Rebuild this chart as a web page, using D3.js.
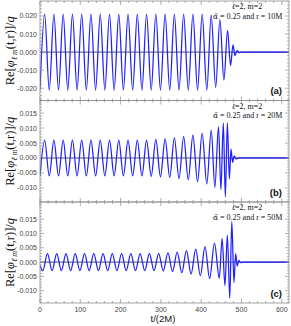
<!DOCTYPE html>
<html>
<head>
<meta charset="utf-8">
<script src="https://cdn.jsdelivr.net/npm/d3@7"></script>
<style>
body { margin: 0; background: #fff; }
</style>
</head>
<body>
<svg width="291" height="326"></svg>
<script>
// extrema of the waveforms (t in units of 2M)
const tA = [0, 11.5, 23, 34.5, 46, 57.5, 69, 80.5, 92, 103.5, 115, 126.5, 138, 149.5, 161, 172.5, 184, 195.5, 207, 218.5, 230, 241.5, 253, 264.5, 276, 287.5, 299, 310.5, 322, 333.5, 345, 356.5, 368, 379.5, 391, 402.5, 414, 425, 436, 446.5, 456.5, 465.5, 473, 479, 484, 489, 494, 500, 618];
const vA = [-0.021, 0.021, -0.021, 0.021, -0.021, 0.021, -0.021, 0.021, -0.021, 0.021, -0.021, 0.021, -0.021, 0.021, -0.021, 0.021, -0.021, 0.021, -0.021, 0.021, -0.021, 0.021, -0.021, 0.021, -0.021, 0.021, -0.021, 0.021, -0.021, 0.021, -0.021, 0.021, -0.021, 0.021, -0.021, 0.021, -0.021, 0.0205, -0.0195, 0.018, -0.0155, 0.012, -0.0075, 0.004, -0.002, 0.0008, -0.0003, 0, 0];

const tB = [0, 11.5, 23, 34.5, 46, 57.5, 69, 80.5, 92, 103.5, 115, 126.5, 138, 149.5, 161, 172.5, 184, 195.5, 207, 218.5, 230, 241.5, 253, 264.5, 276, 287.5, 299, 310.5, 322, 333.5, 345, 356.5, 368, 379.5, 391, 402.5, 414, 425, 434, 443, 449, 455, 460, 465, 470, 474, 478, 482, 487, 493, 618];
const vB = [-0.006, 0.006, -0.006, 0.006, -0.006, 0.006, -0.006, 0.006, -0.006, 0.006, -0.006, 0.006, -0.006, 0.006, -0.006, 0.006, -0.006, 0.006, -0.006, 0.006, -0.006, 0.006, -0.006, 0.006, -0.0061, 0.0062, -0.0063, 0.0064, -0.0065, 0.0067, -0.0069, 0.0071, -0.0073, 0.0076, -0.0079, 0.0083, -0.0087, 0.0093, -0.0098, 0.0105, -0.0105, 0.0117, -0.013, 0.0117, -0.007, 0.003, -0.0015, 0.0007, -0.0003, 0, 0];

const tC = [0, 7, 18.5, 30, 41.5, 53, 64.5, 76, 87.5, 99, 110.5, 122, 133.5, 145, 156.5, 168, 179.5, 191, 202.5, 214, 225.5, 237, 248.5, 260, 271.5, 283, 294.5, 306, 317.5, 329, 340.5, 352, 363.5, 375, 386.5, 398, 409.5, 421, 433, 445, 452, 459, 465, 471, 476, 481.5, 485.5, 489.5, 493.5, 498, 505, 618];
const vC = [-0.0012, -0.003, 0.003, -0.003, 0.003, -0.003, 0.003, -0.003, 0.003, -0.003, 0.003, -0.003, 0.003, -0.003, 0.003, -0.003, 0.003, -0.003, 0.003, -0.003, 0.003, -0.003, 0.003, -0.003, 0.003, -0.003, 0.003, -0.0031, 0.0032, -0.0033, 0.0035, -0.0037, 0.004, -0.0042, 0.0045, -0.0048, 0.0054, -0.0058, 0.0066, -0.0056, 0.0083, -0.0082, 0.0094, -0.0126, 0.0141, -0.0072, 0.003, -0.0014, 0.0006, -0.0002, 0, 0];

const xTicks = [0, 100, 200, 300, 400, 500, 600];
const yTicksA = [-0.02, -0.01, 0, 0.01, 0.02];
const yTicksBC = [-0.01, -0.005, 0, 0.005, 0.01, 0.015];
const radii = ["10M", "20M", "50M"];
const tags = ["(a)", "(b)", "(c)"];

const svg = d3.select("svg");
svg.append("rect").attr("width", 291).attr("height", 326).attr("fill", "#fff");

const x = d3.scaleLinear().domain([0, 618]).range([40, 289]);
const fmt = d => d3.format(".3f")(d).replace("\u2212", "-");

const panels = [
    { t: tA, v: vA, dom: [-0.0268, 0.0283], ticks: yTicksA, minor: 0.002, top: 1, bottom: 100.5 },
    { t: tB, v: vB, dom: [-0.0147, 0.0192], ticks: yTicksBC, minor: 0.001, top: 100.5, bottom: 202 },
    { t: tC, v: vC, dom: [-0.0143, 0.021], ticks: yTicksBC, minor: 0.001, top: 202, bottom: 303 }
];

panels.forEach((p, i) => {
    const y = d3.scaleLinear().domain(p.dom).range([p.bottom, p.top]);
    const g = svg.append("g");

    g.append("clipPath").attr("id", "clip" + i)
        .append("rect").attr("x", 40).attr("y", p.top)
        .attr("width", 249).attr("height", p.bottom - p.top);

    // zero line
    g.append("line")
        .attr("x1", 40).attr("x2", 289)
        .attr("y1", y(0)).attr("y2", y(0))
        .attr("stroke", "#222").attr("stroke-width", 0.8);

    // waveform
    const pts = p.t.map((t, k) => [t, p.v[k]]);
    g.append("path")
        .datum(pts)
        .attr("clip-path", "url(#clip" + i + ")")
        .attr("fill", "none")
        .attr("stroke", "#1f1fff")
        .attr("stroke-width", 1.25)
        .attr("d", d3.line().x(d => x(d[0])).y(d => y(d[1])).curve(d3.curveMonotoneX));

    // frame
    g.append("rect")
        .attr("x", 40).attr("y", p.top)
        .attr("width", 249).attr("height", p.bottom - p.top)
        .attr("fill", "none").attr("stroke", "#8c8c8c").attr("stroke-width", 0.8);

    // x ticks (top and bottom, inside)
    d3.range(0, 620, 20).forEach(t => {
        const len = t % 100 === 0 ? 4 : 2;
        [[p.bottom, -len], [p.top, len]].forEach(([y0, dy]) => {
            g.append("line")
                .attr("x1", x(t)).attr("x2", x(t))
                .attr("y1", y0).attr("y2", y0 + dy)
                .attr("stroke", "#8c8c8c").attr("stroke-width", 0.7);
        });
    });

    // y ticks (left and right, inside)
    d3.range(Math.ceil(p.dom[0] / p.minor), Math.floor(p.dom[1] / p.minor) + 1)
        .map(k => k * p.minor)
        .forEach(v => {
            const major = p.ticks.some(t => Math.abs(t - v) < 1e-9);
            const len = major ? 4 : 2;
            [[40, len], [289, -len]].forEach(([x0, dx]) => {
                g.append("line")
                    .attr("x1", x0).attr("x2", x0 + dx)
                    .attr("y1", y(v)).attr("y2", y(v))
                    .attr("stroke", "#8c8c8c").attr("stroke-width", 0.7);
            });
        });

    g.selectAll(".ylab")
        .data(p.ticks)
        .join("text")
        .attr("x", 37).attr("y", d => y(d) + 2.5)
        .attr("text-anchor", "end")
        .attr("font-family", "Liberation Sans, Arial, sans-serif")
        .attr("font-size", 7)
        .attr("fill", "#444")
        .text(fmt);

    // annotations
    g.append("text")
        .attr("x", 247).attr("y", p.top + 8)
        .attr("text-anchor", "middle")
        .attr("font-family", "Liberation Serif, Times New Roman, serif")
        .attr("font-size", 8)
        .attr("fill", "#111")
        .html("<tspan font-style='italic'>\u2113</tspan>=2, m=2");
    const al = g.append("text")
        .attr("x", 213).attr("y", p.top + 17.5)
        .attr("font-family", "Liberation Serif, Times New Roman, serif")
        .attr("font-size", 8)
        .attr("fill", "#111");
    al.append("tspan").attr("font-family", "DejaVu Serif").attr("font-size", 7.5).text("\u03b1\u0303");
    al.append("tspan").text(" = 0.25 and r = " + radii[i]);

    g.append("text")
        .attr("x", 282).attr("y", p.bottom - 6.5)
        .attr("text-anchor", "end")
        .attr("font-family", "Liberation Sans, Arial, sans-serif")
        .attr("font-weight", "bold")
        .attr("font-size", 9.5)
        .attr("fill", "#111")
        .text(tags[i]);

    // y axis title
    const cy = (p.top + p.bottom) / 2;
    const yl = g.append("text")
        .attr("transform", `translate(14,${cy}) rotate(-90)`)
        .attr("text-anchor", "middle")
        .attr("font-family", "Liberation Serif, Times New Roman, serif")
        .attr("font-size", 12.5)
        .attr("fill", "#111");
    yl.append("tspan").text("Re[");
    yl.append("tspan").attr("font-style", "italic").text("\u03c6");
    yl.append("tspan").attr("font-size", 8).attr("dy", 3).attr("font-style", "italic").text("\u2113 m");
    yl.append("tspan").attr("dy", -3).text("(t,r)]/");
    yl.append("tspan").attr("font-style", "italic").text("q");
});

// x tick labels on the bottom panel
svg.selectAll(".xlab")
    .data(xTicks)
    .join("text")
    .attr("x", d => x(d)).attr("y", 312)
    .attr("text-anchor", "middle")
    .attr("font-family", "Liberation Sans, Arial, sans-serif")
    .attr("font-size", 7)
    .attr("fill", "#444")
    .text(d => d);

svg.append("text")
    .attr("x", 163).attr("y", 322)
    .attr("text-anchor", "middle")
    .attr("font-family", "Liberation Sans, Arial, sans-serif")
    .attr("font-size", 9.5)
    .attr("fill", "#111")
    .text("t/(2M)");
</script>
</body>
</html>
